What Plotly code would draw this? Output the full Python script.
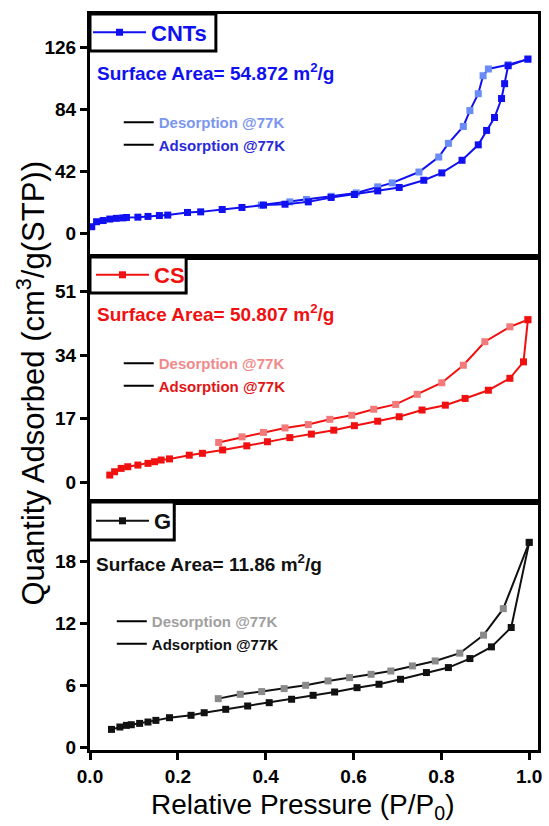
import plotly.graph_objects as go

# ---------------- data ----------------
cnt_ads_x = [0.004, 0.015, 0.03, 0.045, 0.06, 0.075, 0.083, 0.109, 0.132, 0.158, 0.177, 0.222, 0.252,
             0.301, 0.346, 0.395, 0.444, 0.497, 0.549, 0.602, 0.655, 0.704, 0.760, 0.801, 0.847, 0.884,
             0.903, 0.921, 0.937, 0.944, 0.952, 0.997]
cnt_ads_y = [4.3, 7.7, 8.5, 9.5, 10.0, 10.3, 10.6, 10.8, 11.3, 11.9, 12.2, 14.0, 14.4,
             16.0, 17.4, 19.0, 19.6, 21.2, 24.2, 26.2, 28.7, 31.0, 35.9, 40.9, 49.5, 60.0,
             69.8, 78.6, 91.5, 101.6, 113.8, 118.3]
cnt_des_x = [0.997, 0.952, 0.907, 0.895, 0.884, 0.865, 0.850, 0.816, 0.794, 0.749, 0.688, 0.655,
             0.606, 0.549, 0.493, 0.455, 0.390]
cnt_des_y = [118.3, 114.5, 111.6, 107.0, 94.8, 83.3, 72.5, 61.0, 51.7, 41.5, 34.1, 31.4,
             27.3, 25.0, 22.8, 21.2, 19.0]

cs_ads_x = [0.045, 0.056, 0.071, 0.086, 0.109, 0.132, 0.147, 0.162, 0.181, 0.226, 0.256, 0.302, 0.357,
            0.404, 0.455, 0.504, 0.555, 0.602, 0.655, 0.704, 0.756, 0.809, 0.854, 0.907, 0.956, 0.987, 0.997]
cs_ads_y = [1.87, 2.76, 3.66, 4.1, 4.55, 5.0, 5.44, 5.9, 6.2, 7.2, 7.7, 8.6, 9.7,
            10.8, 11.9, 12.85, 13.9, 15.1, 16.3, 17.5, 19.3, 20.6, 22.4, 24.6, 27.8, 32.2, 43.5]
cs_des_x = [0.997, 0.956, 0.899, 0.850, 0.801, 0.745, 0.696, 0.646, 0.596, 0.546, 0.497, 0.444,
            0.395, 0.346, 0.293]
cs_des_y = [43.5, 41.6, 37.6, 31.3, 26.6, 23.5, 20.8, 19.5, 17.9, 16.8, 15.4, 14.5,
            13.3, 12.1, 10.6]

g_ads_x = [0.049, 0.068, 0.083, 0.094, 0.113, 0.132, 0.150, 0.181, 0.230, 0.260, 0.309, 0.359, 0.408,
           0.459, 0.508, 0.557, 0.608, 0.658, 0.707, 0.766, 0.816, 0.865, 0.914, 0.959, 1.000]
g_ads_y = [1.74, 1.97, 2.13, 2.19, 2.32, 2.45, 2.61, 2.87, 3.10, 3.35, 3.68, 4.00, 4.32,
           4.65, 5.03, 5.35, 5.77, 6.10, 6.58, 7.23, 7.71, 8.58, 9.71, 11.58, 19.8]
g_des_x = [1.000, 0.941, 0.896, 0.842, 0.786, 0.734, 0.685, 0.640, 0.591, 0.542, 0.491, 0.442,
           0.391, 0.342, 0.292]
g_des_y = [19.8, 13.4, 10.84, 9.10, 8.35, 7.87, 7.38, 7.06, 6.74, 6.42, 6.00, 5.68,
           5.39, 5.13, 4.71]

panel_names = ["CNTs", "CS", "G"]
surface_areas = ["54.872", "50.807", "11.86"]
x_ticks = [0.0, 0.2, 0.4, 0.6, 0.8, 1.0]
y_ticks = [[0, 42, 84, 126], [0, 17, 34, 51], [0, 6, 12, 18]]
y_ranges = [[-16.3, 149], [-5.35, 60.3], [-0.25, 23.7]]

# ---------------- styles ----------------
main_col = ["#1010f0", "#f01010", "#111111"]
des_col = ["#6a8cf7", "#f27a7a", "#8a8a8a"]
des_txt = ["#7b96ee", "#f08a8a", "#a0a0a0"]
ads_txt = ["#2a2ad8", "#e01515", "#111111"]

FONT = "Liberation Sans, Arial, sans-serif"

# plot area in px
W, H = 549, 826
L, R, T, B = 90, 7, 14, 76
ph = H - T - B
def py(p):  # pixel y -> paper y
    return (H - B - p) / ph
def px(p):
    return (p - L) / (W - L - R)

bounds = [T, 257, 502, H - B]
domains = [[py(bounds[i + 1]), py(bounds[i])] for i in range(3)]

data_sets = [
    (cnt_ads_x, cnt_ads_y, cnt_des_x, cnt_des_y),
    (cs_ads_x, cs_ads_y, cs_des_x, cs_des_y),
    (g_ads_x, g_ads_y, g_des_x, g_des_y),
]

fig = go.Figure()
for i, (ax_, ay_, dx_, dy_) in enumerate(data_sets):
    xa = "x" if i == 0 else f"x{i+1}"
    ya = "y" if i == 0 else f"y{i+1}"
    main_leg = "legend" if i == 0 else f"legend{i+1}"
    sub_leg = f"legend{i+4}"
    fig.add_trace(go.Scatter(x=dx_, y=dy_, mode="lines+markers", xaxis=xa, yaxis=ya,
                             line=dict(color=main_col[i], width=2),
                             marker=dict(symbol="square", size=7, color=des_col[i]),
                             showlegend=False))
    fig.add_trace(go.Scatter(x=ax_, y=ay_, mode="lines+markers", xaxis=xa, yaxis=ya,
                             name=panel_names[i], legend=main_leg,
                             line=dict(color=main_col[i], width=2),
                             marker=dict(symbol="square", size=7, color=main_col[i])))
    # sub legend entries
    fig.add_trace(go.Scatter(x=[None], y=[None], mode="lines", xaxis=xa, yaxis=ya, legend=sub_leg,
                             line=dict(color="black", width=2),
                             name=f"<span style='color:{des_txt[i]}'>Desorption @77K</span>"))
    fig.add_trace(go.Scatter(x=[None], y=[None], mode="lines", xaxis=xa, yaxis=ya, legend=sub_leg,
                             line=dict(color="black", width=2),
                             name=f"<span style='color:{ads_txt[i]}'>Adsorption @77K</span>"))

layout = dict(
    width=W, height=H, margin=dict(l=L, r=R, t=T, b=B),
    plot_bgcolor="white", paper_bgcolor="white",
    font=dict(family=FONT, color="black"),
)

# legend boxes (px): left, right, top, bottom
boxes = [(90, 217, 14, 51), (90, 187, 257, 293), (90, 175, 502, 540)]
leg_x = [88, 91, 91]

shapes = []
for i in range(3):
    xk = "xaxis" if i == 0 else f"xaxis{i+1}"
    yk = "yaxis" if i == 0 else f"yaxis{i+1}"
    ya = "y" if i == 0 else f"y{i+1}"
    xa = "x" if i == 0 else f"x{i+1}"
    bottom = (i == 2)
    layout[xk] = dict(anchor=ya, domain=[0, 1], range=[0, 1.02], showline=True, mirror=True,
                      linecolor="black", linewidth=3, showgrid=False, zeroline=False,
                      tickvals=x_ticks if bottom else [], ticks="outside" if bottom else "",
                      ticklen=7, tickwidth=3, tickcolor="black", tickformat=".1f",
                      showticklabels=bottom,
                      tickfont=dict(family=FONT, size=19, weight="bold", color="black"))
    layout[yk] = dict(anchor=xa, domain=domains[i], range=y_ranges[i], showline=True, mirror=True,
                      linecolor="black", linewidth=3, showgrid=False, zeroline=False,
                      tickvals=y_ticks[i], ticks="outside", ticklen=7, tickwidth=3, tickcolor="black",
                      tickfont=dict(family=FONT, size=19, weight="bold", color="black"))

    bl, br, bt, bb = boxes[i]
    shapes.append(dict(type="rect", xref="paper", yref="paper",
                       x0=px(bl), x1=px(br), y0=py(bb), y1=py(bt),
                       line=dict(color="black", width=3), fillcolor="white", layer="above"))
    main_leg = "legend" if i == 0 else f"legend{i+1}"
    layout[main_leg] = dict(x=px(leg_x[i]), y=py((bt + bb) / 2), xanchor="left", yanchor="middle",
                            borderwidth=0, bgcolor="rgba(0,0,0,0)",
                            font=dict(family=FONT, size=22, weight="bold", color=main_col[i]),
                            itemwidth=53)

sub_leg_pos = [(119, 106), (119, 347), (112, 605)]
for i in range(3):
    layout[f"legend{i+4}"] = dict(x=px(sub_leg_pos[i][0]), y=py(sub_leg_pos[i][1]),
                                   xanchor="left", yanchor="top", bgcolor="rgba(0,0,0,0)",
                                   borderwidth=0, tracegroupgap=0,
                                   font=dict(family=FONT, size=15, weight="bold", color="black"))

layout["shapes"] = shapes
fig.update_layout(**layout)

sa_pos = [(95, 72), (95, 313), (94, 563)]
for i in range(3):
    fig.add_annotation(x=px(sa_pos[i][0]), y=py(sa_pos[i][1]), xref="paper", yref="paper",
                       xanchor="left", yanchor="middle", showarrow=False,
                       text=f"Surface Area= {surface_areas[i]} m<sup>2</sup>/g",
                       font=dict(family=FONT, size=19, weight="bold", color=main_col[i]))

fig.add_annotation(x=px(30), y=py(383), xref="paper", yref="paper", textangle=-90,
                   xanchor="center", yanchor="middle", showarrow=False,
                   text="Quantity Adsorbed (cm<sup>3</sup>/g(STP))",
                   font=dict(family=FONT, size=31, color="black"))
fig.add_annotation(x=px(304), y=py(806), xref="paper", yref="paper",
                   xanchor="center", yanchor="middle", showarrow=False,
                   text="Relative Pressure (P/P<sub>0</sub>)",
                   font=dict(family=FONT, size=28, color="black"))

fig.write_html("out.html", config={"displayModeBar": False},
               post_script="document.body.style.margin='0';document.body.style.overflow='hidden';")
